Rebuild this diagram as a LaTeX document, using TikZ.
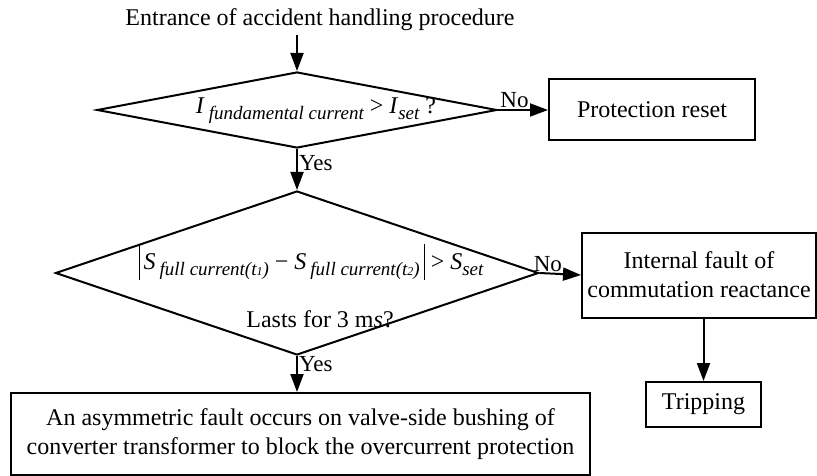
\documentclass[tikz,border=0pt]{standalone}
\usepackage{fontspec}
\setmainfont{Liberation Serif}
\usetikzlibrary{shapes.geometric,arrows.meta}
\newcommand{\subtxt}[1]{\raisebox{-0.55ex}{\fontsize{19}{19}\selectfont\itshape #1}}
\newcommand{\absbar}{\rule[-11pt]{1.1pt}{36pt}}
\tikzset{
  box/.style={draw, line width=2pt, inner sep=0pt, align=center},
  decision/.style={draw, diamond, line width=2pt, inner sep=0pt},
  flow/.style={line width=2pt, -{Triangle[length=18pt,width=13pt]}},
  lbl/.style={font=\fontsize{23}{25}\selectfont, inner sep=1pt},
}
\begin{document}
\begin{tikzpicture}[x=1pt, y=-1pt, font=\fontsize{24}{29}\selectfont]
\useasboundingbox (0,0) rectangle (817,476);
\node (start) at (320,20) {Entrance of accident handling procedure};
% first check
\node[decision, minimum width=400pt, minimum height=76pt] (d1) at (297,110) {};
\node (d1txt) at (316,111) {\textit{I}\,\subtxt{fundamental current} > \textit{I}\subtxt{set} ?};
\node[box, minimum width=206pt, minimum height=61pt] (reset) at (652,110) {Protection reset};
% second check
\node[decision, minimum width=483pt, minimum height=164pt] (d2) at (297,273) {};
\node (d2txt) at (311,262) {\absbar\,\textit{S}\,\subtxt{full current(\textit{t}{\fontsize{12}{12}\selectfont 1})} − \textit{S}\,\subtxt{full current(\textit{t}{\fontsize{12}{12}\selectfont 2})}\,\absbar{} > \textit{S}\subtxt{set}};
\node (d2txt2) at (320,319) {Lasts for 3 m\textit{s}?};
\node[box, minimum width=234pt, minimum height=85pt] (fault) at (699,275) {Internal fault of\\commutation reactance};
\node[box, minimum width=115pt, minimum height=45pt] (trip) at (703.5,404.5) {Tripping};
\node[box, minimum width=579pt, minimum height=82pt] (block) at (300.5,434) {An asymmetric fault occurs on valve-side bushing of\\converter transformer to block the overcurrent protection};

\draw[flow] (start.south -| d1.north) -- (d1.north);
\draw[flow] (d1.east) -- node[lbl, above, pos=0.33]{No} (reset.west);
\draw[flow] (d1.south) -- node[lbl, right, pos=0.35]{Yes} (d2.north);
\draw[flow] (d2.east) -- node[lbl, above, pos=0.2]{No} (fault.west);
\draw[flow] (d2.south) -- node[lbl, right, pos=0.22]{Yes} (d2.south |- block.north);
\draw[flow] (trip.north |- fault.south) -- (trip.north);
\end{tikzpicture}
\end{document}
